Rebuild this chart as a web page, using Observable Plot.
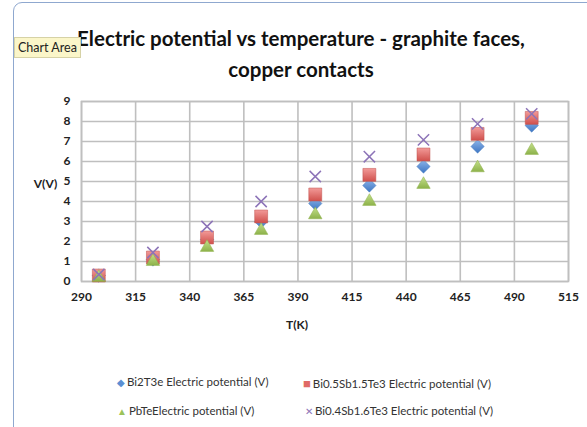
<!DOCTYPE html>
<html>
<head>
<meta charset="utf-8">
<script src="https://cdn.jsdelivr.net/npm/d3@7"></script>
<script src="https://cdn.jsdelivr.net/npm/@observablehq/plot@0.6"></script>
<style>
  html, body { margin: 0; padding: 0; background: #fff; overflow: hidden; }
  #wrap { position: relative; width: 587px; height: 427px; font-family: Lato, "Open Sans", sans-serif; }
  #frame { position: absolute; left: 13px; top: 2px; width: 640px; height: 480px;
           border: 1.5px solid #8fa8cf; border-radius: 9px; box-sizing: border-box; }
  #title { position: absolute; left: 0; width: 602px; top: 23px; text-align: center;
           font-weight: bold; font-size: 20.5px; line-height: 31px; color: #111; }
  #tip { position: absolute; left: 14px; top: 37px; height: 19px; padding: 0 3px;
         background: #fbf6c9; border: 1px solid #d6d2a6; font-size: 12.5px; line-height: 19px; color: #222; }
  #chart { position: absolute; left: 0; top: 0; }
  .leg { position: absolute; font-size: 11.5px; color: #333; white-space: nowrap; }
  .leg .m { display: inline-block; margin-right: 2px; }
</style>
</head>
<body>
<div id="wrap">
  <div id="chart"></div>
  <div id="frame"></div>
  <div id="title">Electric potential vs temperature - graphite faces,<br>copper contacts</div>
  <div id="tip">Chart Area</div>
</div>
<script>
// Temperature (K) and measured electric potential (V) for each material
const temps  = [298, 323, 348, 373, 398, 423, 448, 473, 498];
const bi2te3 = [0.3, 1.1, 2.1, 3.0, 3.9, 4.8, 5.75, 6.75, 7.8];
const bi05   = [0.3, 1.2, 2.2, 3.25, 4.35, 5.33, 6.35, 7.38, 8.18];
const pbte   = [0.2, 1.0, 1.7, 2.55, 3.33, 4.0, 4.85, 5.68, 6.55];
const bi04   = [0.35, 1.45, 2.75, 4.0, 5.25, 6.24, 7.08, 7.88, 8.38];

const seriesNames = [
  "Bi2T3e Electric potential (V)",
  "Bi0.5Sb1.5Te3 Electric potential (V)",
  "PbTeElectric potential (V)",
  "Bi0.4Sb1.6Te3 Electric potential (V)"
];
const xTicks = [290, 315, 340, 365, 390, 415, 440, 465, 490, 515];
const yTicks = [0, 1, 2, 3, 4, 5, 6, 7, 8, 9];

const rows = (vals) => temps.map((t, i) => ({t, v: vals[i]}));

const grid = "#bfbfbf";
const chart = Plot.plot({
  width: 587,
  height: 427,
  marginLeft: 81,
  marginRight: 19,
  marginTop: 101,
  marginBottom: 146,
  style: {fontFamily: "Lato, sans-serif", background: "transparent"},
  x: {domain: [290, 515], ticks: xTicks, label: null},
  y: {domain: [0, 9], ticks: yTicks, label: null},
  marks: [
    Plot.gridX(xTicks, {stroke: grid, strokeOpacity: 1, strokeWidth: 1.6}),
    Plot.gridY(yTicks, {stroke: grid, strokeOpacity: 1, strokeWidth: 1.6}),
    Plot.frame({stroke: grid, strokeWidth: 1.6}),
    Plot.axisX(xTicks, {tickSize: 0, tickPadding: 11, fontSize: 12, fontWeight: "bold", fill: "#222"}),
    Plot.axisY(yTicks, {tickSize: 0, tickPadding: 11, fontSize: 12, fontWeight: "bold", fill: "#222"}),
    Plot.text(["T(K)"], {frameAnchor: "bottom", dy: 47, dx: -28, fontSize: 12, fontWeight: "bold", fill: "#222"}),
    Plot.text(["V(V)"], {frameAnchor: "left", textAnchor: "middle", dx: -36, dy: -7, fontSize: 12, fontWeight: "bold", fill: "#222"}),
    Plot.dot(rows(bi2te3), {x: "t", y: "v", symbol: "diamond2", r: 6, fill: "url(#gBlue)", stroke: "#4a7fbf", strokeWidth: 0.5}),
    Plot.dot(rows(bi05), {x: "t", y: "v", symbol: "square", r: 7.3, fill: "url(#gRed)", stroke: "#c0504d", strokeWidth: 0.5}),
    Plot.dot(rows(pbte), {x: "t", y: "v", symbol: "triangle", r: 5, fill: "url(#gGreen)", stroke: "#8fb04d", strokeWidth: 0.5}),
    Plot.dot(rows(bi04), {x: "t", y: "v", symbol: "times", r: 5.2, stroke: "#8d74b8", strokeWidth: 1.5})
  ]
});

// marker shading
const defs = d3.select(chart).insert("defs", ":first-child");
[["gBlue", "#8db4e8", "#3d76c4"], ["gRed", "#f29a98", "#d0504c"], ["gGreen", "#c4e08a", "#8db24a"]]
  .forEach(([id, a, b]) => {
    const g = defs.append("linearGradient").attr("id", id).attr("x1", 0).attr("y1", 0).attr("x2", 0).attr("y2", 1);
    g.append("stop").attr("offset", "0%").attr("stop-color", a);
    g.append("stop").attr("offset", "100%").attr("stop-color", b);
  });
document.getElementById("chart").appendChild(chart);

// legend below the plot
const legendMarks = [
  {sym: "\u25C6", color: "#5b8fd3", size: 10},
  {sym: "\u25A0", color: "#e06a66", size: 13},
  {sym: "\u25B2", color: "#9cc35a", size: 10},
  {sym: "\u2715", color: "#8d74b8", size: 10}
];
const legendPos = [[117, 375], [303, 375], [117, 404], [305, 404]];
const wrap = document.getElementById("wrap");
seriesNames.forEach((name, i) => {
  const d = document.createElement("div");
  d.className = "leg";
  d.style.left = legendPos[i][0] + "px";
  d.style.top = legendPos[i][1] + "px";
  const m = document.createElement("span");
  m.className = "m";
  m.textContent = legendMarks[i].sym;
  m.style.color = legendMarks[i].color;
  m.style.fontSize = legendMarks[i].size + "px";
  d.appendChild(m);
  d.appendChild(document.createTextNode(name));
  wrap.appendChild(d);
});
</script>
</body>
</html>
